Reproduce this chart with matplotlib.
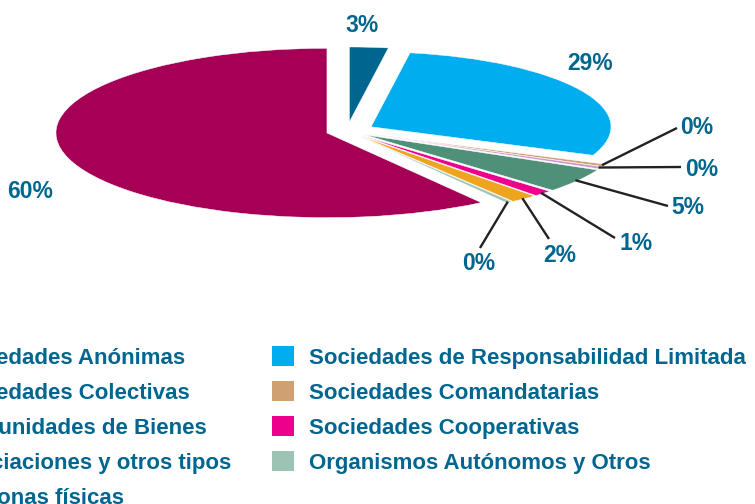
import matplotlib
matplotlib.use("Agg")
import matplotlib.pyplot as plt
from matplotlib.patches import Patch
import numpy as np

plt.rcParams["font.family"] = ["Liberation Sans", "DejaVu Sans"]

# ---------------- data ----------------
categories = [
    "Sociedades Anónimas",
    "Sociedades de Responsabilidad Limitada",
    "Sociedades Comandatarias",
    "Sociedades Colectivas",
    "Comunidades de Bienes",
    "Sociedades Cooperativas",
    "Asociaciones y otros tipos",
    "Organismos Autónomos y Otros",
    "Personas físicas",
]
values = [2.6, 28.6, 0.48, 0.48, 4.9, 1.2, 1.7, 0.4, 59.64]
colors = ["#00658F", "#00AEEF", "#CFA070", "#CC99CC", "#4E9178",
          "#EC008C", "#EFA41F", "#9DC3B5", "#A50055"]
legend_order = [0, 3, 4, 6, 8, 1, 2, 5, 7]

# ---------------- style / layout ----------------
W, H = 755, 504
K = 0.3125                      # vertical squash of the tilted pie
TXT = "#00668F"
explode = [29, 27.5, 22, 22, 22, 22, 22, 22, 21]
radii = [240, 240, 258, 258, 258, 258, 258, 258, 271]
label_pos = [(362, 25), (590, 64), (697, 128), (702, 169), (688, 208),
             (636, 244), (560, 256), (479, 264), (30, 192)]
leader_end = [None, None, (677, 128), (681, 167), (668, 206),
              (615, 238), (549, 239), (480, 248), None]


def P(x, y):
    """pixel position (from top-left) -> data coords"""
    return (x, (H - y) / K)


fig = plt.figure(figsize=(W / 100, H / 100), dpi=100)
ax = fig.add_axes([0, 0, 1, 1])

wedges, _ = ax.pie(values, colors=colors, startangle=90, counterclock=False,
                   explode=explode, radius=240, center=P(347, 131),
                   wedgeprops=dict(edgecolor="white", linewidth=0.35))
for w, r in zip(wedges, radii):
    w.set_radius(r)

ax.set_aspect("auto")
ax.set_xlim(0, W)
ax.set_ylim(0, H / K)
ax.axis("off")

for w, v, pos, end in zip(wedges, values, label_pos, leader_end):
    ax.text(*P(*pos), f"{v:.0f}%", ha="center", va="center",
            fontsize=16.5, fontweight="bold", color=TXT)
    if end is not None:
        mid = np.deg2rad((w.theta1 + w.theta2) / 2)
        cx, cy = w.center
        r = w.r * 0.99
        sx, sy = cx + r * np.cos(mid), cy + r * np.sin(mid)
        ex, ey = P(*end)
        ax.plot([sx, ex], [sy, ey], color="#222222", lw=1.7,
                solid_capstyle="butt")

handles = [Patch(facecolor=colors[i]) for i in legend_order]
labels = [categories[i] for i in legend_order]
fig.legend(handles, labels, ncol=2, loc="upper left",
           bbox_to_anchor=(-88 / W, 1 - 346 / H), borderaxespad=0,
           frameon=False, borderpad=0,
           prop=dict(size=16, weight="bold"), labelcolor=TXT,
           handlelength=1.0, handleheight=1.0, handletextpad=0.68,
           columnspacing=1.8, labelspacing=0.56)

fig.savefig("out.png", dpi=100)
